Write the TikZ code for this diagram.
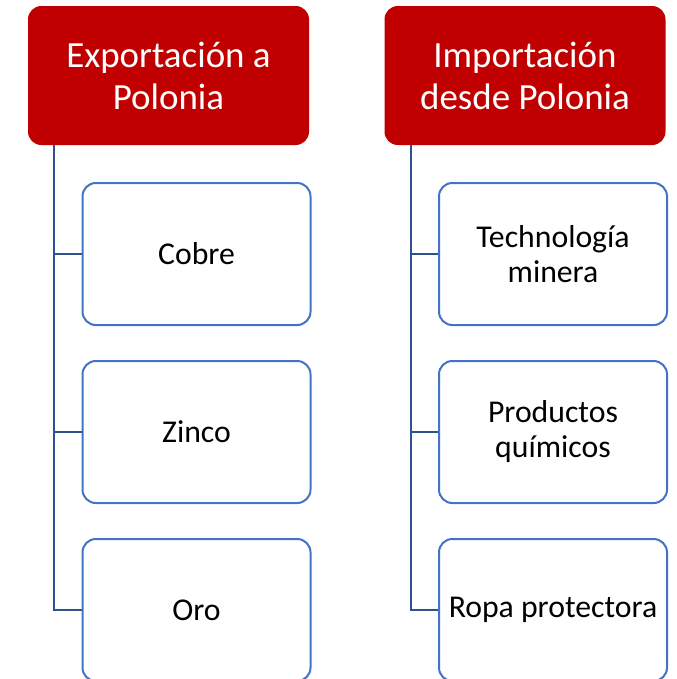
\documentclass[tikz,border=0pt]{standalone}
\usepackage{fontspec}
\setmainfont{Carlito}
\definecolor{hred}{HTML}{C00000}
\definecolor{bblue}{HTML}{4472C4}
\definecolor{lblue}{HTML}{2F528F}
\begin{document}
\begin{tikzpicture}[x=0.75pt,y=-0.75pt,
  head/.style={fill=hred, rounded corners=10pt, text=white, align=center,
    font=\fontsize{27.7}{31.5}\selectfont, minimum width=210.75pt, minimum height=104.25pt, inner sep=0pt},
  child/.style={draw=bblue, line width=1.5pt, fill=white, rounded corners=10pt, align=center,
    font=\fontsize{23.8}{26.25}\selectfont, minimum width=171pt, minimum height=106.5pt, inner sep=0pt},
  conn/.style={draw=lblue, line width=1.5pt}]
\clip (0,0) rectangle (677,679);
\fill[white] (0,0) rectangle (677,679);
\node[head] (hL) at (168.5,75.5) {Exportación a\\Polonia};
\node[head] (hR) at (525,75.5) {Importación\\desde Polonia};
\coordinate (tL) at (54,145);
\coordinate (tR) at (411,145);
\node[child] (l1) at (196.5,254) {Cobre};
\node[child] (l2) at (196.5,432) {Zinco};
\node[child] (l3) at (196.5,610) {Oro};
\node[child] (r1) at (553,254) {Technología\\minera};
\node[child] (r2) at (553,432) {Productos\\químicos};
\node[child] (r3) at (553,610) {Ropa protectora};
\draw[conn] (tL) |- (l3.west);
\draw[conn] (tL |- l1.west) -- (l1.west);
\draw[conn] (tL |- l2.west) -- (l2.west);
\draw[conn] (tR) |- (r3.west);
\draw[conn] (tR |- r1.west) -- (r1.west);
\draw[conn] (tR |- r2.west) -- (r2.west);
\end{tikzpicture}
\end{document}
